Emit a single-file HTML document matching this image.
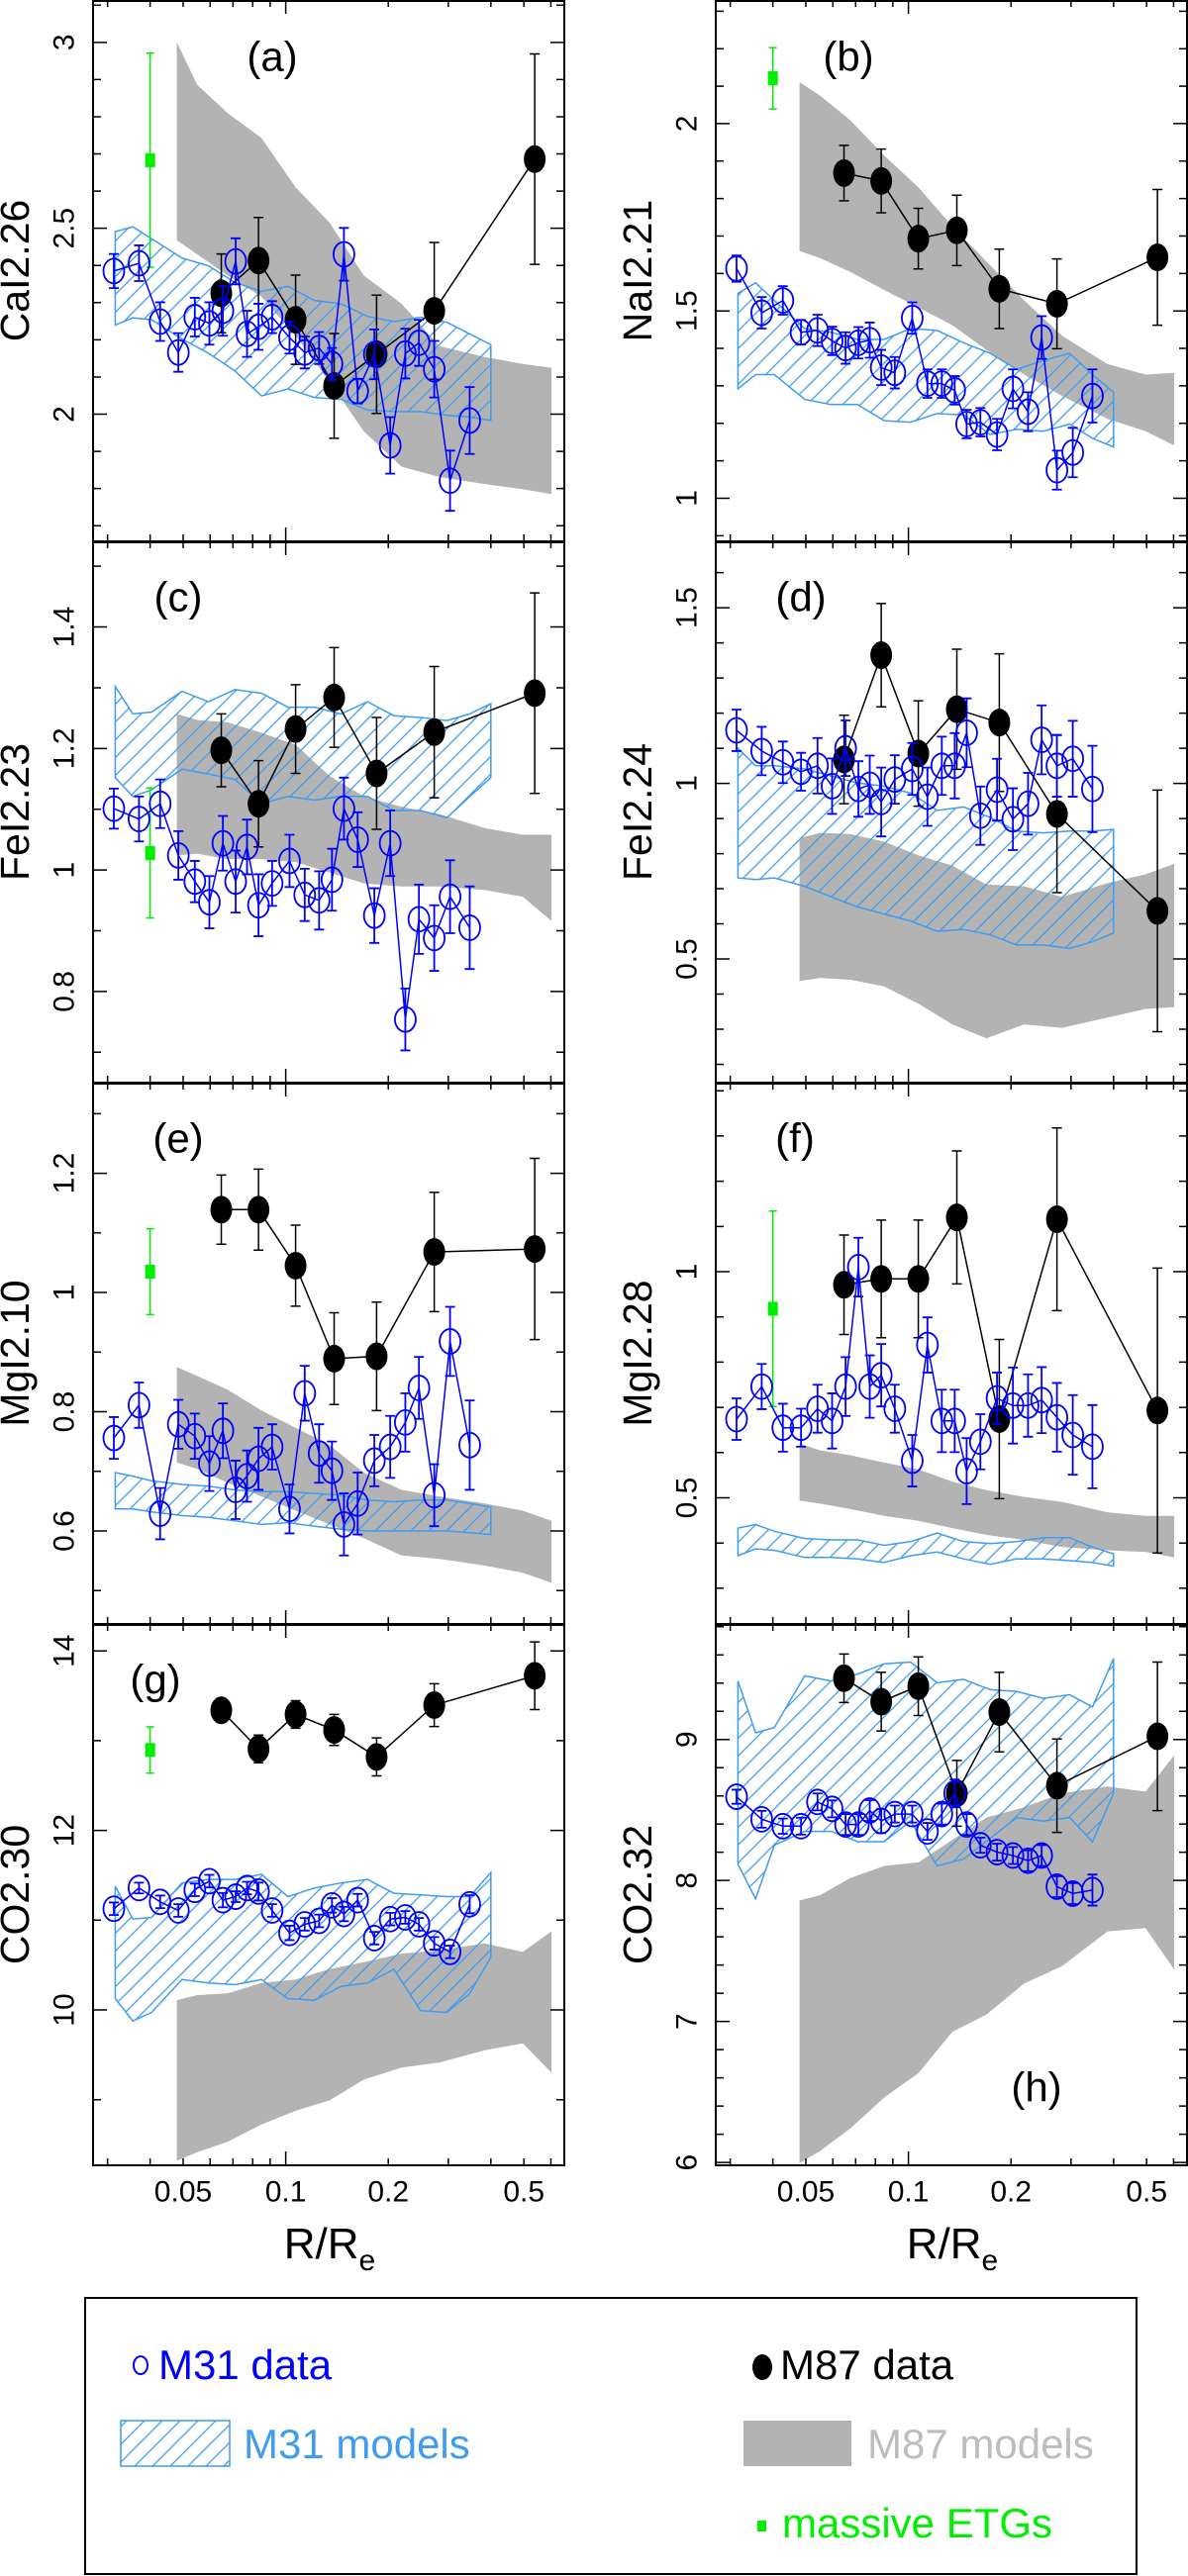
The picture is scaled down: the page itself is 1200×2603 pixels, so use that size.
<!DOCTYPE html>
<html><head><meta charset="utf-8"><title>Line-strength index profiles, M31 and M87</title>
<style>
html,body{margin:0;padding:0;background:#fff;}
svg{display:block;font-family:"Liberation Sans",sans-serif;}
</style></head>
<body>
<svg id="fig" width="1200" height="2603" viewBox="0 0 1200 2603" xmlns="http://www.w3.org/2000/svg">
<defs>
<pattern id="hatch" patternUnits="userSpaceOnUse" width="18" height="18">
<path d="M0,18 L18,0 M-4,4 L4,-4 M14,22 L22,14" stroke="#3f9cf0" stroke-width="1.3" fill="none"/>
</pattern>
</defs>
<g id="panels"></g>
<g id="legend">
<rect x="86" y="2322" width="1062" height="279" fill="none" stroke="#000" stroke-width="2"/>
<ellipse cx="142" cy="2390" rx="7" ry="9" fill="none" stroke="#0000ff" stroke-width="2"/>
<text x="160" y="2404" font-size="42" fill="#0000ff">M31 data</text>
<rect x="122" y="2446" width="110" height="46" fill="url(#hatch)" stroke="#3f9cf0" stroke-width="1.5"/>
<text x="246" y="2484" font-size="42" fill="#3f9cf0">M31 models</text>
<ellipse cx="770" cy="2392" rx="10" ry="13" fill="#000"/>
<text x="788" y="2404" font-size="42" fill="#000">M87 data</text>
<rect x="751" y="2446" width="109" height="46" fill="#b3b3b3"/>
<text x="876" y="2484" font-size="42" fill="#bdbdbd">M87 models</text>
<rect x="765" y="2547" width="9" height="11" fill="#00ee00"/>
<text x="790" y="2564" font-size="42" fill="#00ee00">massive ETGs</text>
</g>
</svg>
<script>
// ---------- shared radii (R/Re) ----------
const R_M31 = [0.0313,0.0371,0.0428,0.0484,0.0541,0.0597,0.0654,0.0713,0.0770,0.0832,0.0912,0.1026,0.1137,0.1253,0.1367,0.1482,0.1626,0.1820,0.2026,0.2244,0.2460,0.2728,0.3036,0.3467];
const R_M87 = [0.0647,0.0832,0.1069,0.1387,0.1848,0.2728,0.538];
const R_GREEN = 0.040;
const R_GRAY = [0.0479,0.0550,0.0675,0.0849,0.1069,0.1345,0.1694,0.2188,0.2825,0.3838,0.4963,0.6026];
const R_HATCH = [0.0316,0.0356,0.0404,0.0496,0.0593,0.0710,0.0849,0.1015,0.1214,0.1452,0.1738,0.2078,0.2487,0.2974,0.3467,0.4000];
const X_TICK_LABELS = ["0.05","0.1","0.2","0.5"];
const X_TICK_VALUES = [0.05,0.1,0.2,0.5];
const X_MINOR = [0.03,0.04,0.05,0.06,0.07,0.08,0.09,0.2,0.3,0.4,0.5,0.6];

// ---------- (a) CaI2.26 ----------
const aM31 = [2.385,2.406,2.249,2.166,2.261,2.244,2.278,2.411,2.216,2.235,2.261,2.206,2.166,2.178,2.135,2.430,2.062,2.161,1.916,2.163,2.192,2.121,1.821,1.983];
const aM31err = [0.046,0.048,0.052,0.052,0.052,0.057,0.067,0.062,0.062,0.062,0.043,0.043,0.043,0.043,0.043,0.071,0.033,0.067,0.076,0.067,0.062,0.076,0.081,0.090];
const aM87 = [2.325,2.413,2.254,2.076,2.161,2.278,2.686];
const aM87err = [0.106,0.116,0.120,0.141,0.159,0.184,0.283];
const aGreen = [2.683,0.288];
const aGrayHi = [3.0,2.886,2.810,2.743,2.610,2.515,2.373,2.297,2.183,2.154,2.135,2.125];
const aGrayLo = [2.468,2.430,2.373,2.316,2.211,2.087,1.954,1.859,1.831,1.812,1.798,1.785];
const aHatchHi = [2.491,2.504,2.472,2.420,2.399,2.354,2.330,2.344,2.306,2.297,2.263,2.249,2.261,2.247,2.216,2.187];
const aHatchLo = [2.240,2.259,2.254,2.202,2.164,2.116,2.049,2.068,2.045,2.040,2.011,2.007,2.007,1.997,1.992,1.983];

// ---------- (b) NaI2.21 ----------
const bM31 = [1.613,1.495,1.528,1.443,1.448,1.420,1.401,1.415,1.422,1.349,1.335,1.481,1.306,1.306,1.288,1.198,1.203,1.170,1.292,1.231,1.429,1.075,1.122,1.273];
const bM31err = [0.035,0.042,0.038,0.033,0.042,0.038,0.042,0.042,0.047,0.047,0.042,0.042,0.038,0.038,0.038,0.038,0.038,0.042,0.052,0.052,0.057,0.052,0.066,0.071];
const bM87 = [1.868,1.847,1.693,1.715,1.559,1.519,1.643];
const bM87err = [0.074,0.085,0.081,0.094,0.106,0.120,0.181];
const bGreen = [2.121,0.082];
const bGrayHi = [2.111,2.075,2.009,1.915,1.830,1.726,1.632,1.528,1.434,1.358,1.330,1.335];
const bGrayLo = [1.660,1.641,1.604,1.556,1.509,1.462,1.396,1.330,1.273,1.212,1.179,1.141];
const bHatchHi = [1.547,1.575,1.528,1.453,1.443,1.424,1.424,1.453,1.448,1.415,1.387,1.344,1.368,1.387,1.330,1.283];
const bHatchLo = [1.292,1.330,1.330,1.264,1.250,1.250,1.207,1.203,1.226,1.222,1.170,1.184,1.179,1.198,1.160,1.137];

// ---------- (c) FeI2.23 ----------
const cM31 = [1.101,1.084,1.109,1.024,0.981,0.947,1.044,0.981,1.038,0.942,0.978,1.015,0.959,0.950,0.984,1.101,1.050,0.925,1.044,0.754,0.919,0.888,0.956,0.905];
const cM31err = [0.033,0.037,0.040,0.040,0.034,0.043,0.045,0.051,0.045,0.051,0.037,0.043,0.043,0.048,0.051,0.051,0.045,0.045,0.054,0.051,0.057,0.054,0.060,0.068];
const cM87 = [1.197,1.109,1.232,1.284,1.159,1.227,1.291];
const cM87err = [0.060,0.071,0.073,0.082,0.092,0.108,0.165];
const cGreen = [1.028,0.107];
const cGrayHi = [1.257,1.247,1.243,1.226,1.206,1.155,1.121,1.104,1.092,1.069,1.058,1.058];
const cGrayLo = [1.024,1.027,1.018,1.018,1.013,0.996,0.978,0.973,0.973,0.967,0.956,0.916];
const cHatchHi = [1.302,1.257,1.260,1.294,1.277,1.297,1.291,1.268,1.268,1.257,1.277,1.254,1.251,1.246,1.257,1.274];
const cHatchLo = [1.152,1.121,1.132,1.166,1.158,1.149,1.109,1.121,1.115,1.121,1.121,1.098,1.098,1.086,1.121,1.152];

// ---------- (d) FeI2.24 ----------
const dM31 = [1.151,1.092,1.060,1.033,1.050,0.992,1.100,0.984,0.996,0.947,1.011,1.041,0.962,1.050,1.050,1.144,0.908,0.982,0.898,0.942,1.124,1.050,1.070,0.984];
const dM31err = [0.059,0.069,0.059,0.054,0.079,0.079,0.079,0.079,0.083,0.098,0.069,0.074,0.083,0.083,0.093,0.098,0.083,0.088,0.088,0.088,0.098,0.088,0.108,0.123];
const dM87 = [1.068,1.365,1.085,1.211,1.173,0.913,0.637];
const dM87err = [0.126,0.147,0.150,0.171,0.196,0.224,0.344];
const dGreen = null;
const dGrayHi = [0.844,0.859,0.856,0.834,0.795,0.766,0.712,0.707,0.677,0.716,0.741,0.771];
const dGrayLo = [0.437,0.446,0.441,0.422,0.373,0.314,0.274,0.314,0.304,0.333,0.358,0.363];
const dHatchHi = [1.100,1.050,1.050,1.041,1.021,1.001,0.992,0.972,0.923,0.933,0.903,0.864,0.859,0.864,0.864,0.869];
const dHatchLo = [0.731,0.726,0.731,0.707,0.677,0.648,0.628,0.608,0.579,0.584,0.569,0.540,0.540,0.530,0.549,0.574];

// ---------- (e) MgI2.10 ----------
const eM31 = [0.756,0.811,0.629,0.779,0.759,0.713,0.768,0.669,0.692,0.721,0.741,0.637,0.831,0.730,0.701,0.611,0.646,0.718,0.741,0.782,0.840,0.660,0.918,0.744];
const eM31err = [0.035,0.038,0.043,0.041,0.038,0.046,0.046,0.049,0.043,0.052,0.038,0.041,0.046,0.049,0.049,0.052,0.052,0.043,0.052,0.049,0.052,0.052,0.058,0.075];
const eM87 = [1.139,1.139,1.045,0.889,0.893,1.068,1.073];
const eM87err = [0.058,0.068,0.068,0.077,0.091,0.100,0.152];
const eGreen = [1.035,0.072];
const eGrayHi = [0.875,0.860,0.837,0.802,0.773,0.744,0.698,0.669,0.658,0.646,0.634,0.617];
const eGrayLo = [0.715,0.704,0.681,0.658,0.634,0.611,0.588,0.559,0.553,0.542,0.530,0.513];
const eHatchHi = [0.698,0.692,0.684,0.678,0.675,0.669,0.666,0.666,0.663,0.660,0.652,0.649,0.652,0.652,0.646,0.640];
const eHatchLo = [0.637,0.637,0.632,0.626,0.623,0.617,0.611,0.614,0.608,0.603,0.600,0.600,0.600,0.600,0.597,0.594];

// ---------- (f) MgI2.28 ----------
const fM31 = [0.674,0.746,0.655,0.655,0.697,0.670,0.746,1.010,0.746,0.771,0.697,0.582,0.838,0.670,0.670,0.559,0.624,0.720,0.704,0.704,0.716,0.678,0.639,0.613];
const fM31err = [0.046,0.050,0.053,0.042,0.053,0.061,0.065,0.065,0.069,0.069,0.053,0.057,0.061,0.069,0.069,0.073,0.061,0.057,0.084,0.069,0.073,0.076,0.088,0.092];
const fM87 = [0.971,0.984,0.984,1.120,0.674,1.116,0.693];
const fM87err = [0.110,0.130,0.130,0.147,0.176,0.202,0.315];
const fGreen = [0.918,0.216];
const fGrayHi = [0.620,0.605,0.594,0.578,0.563,0.536,0.517,0.502,0.491,0.468,0.460,0.460];
const fGrayLo = [0.494,0.487,0.475,0.460,0.449,0.433,0.418,0.407,0.391,0.384,0.380,0.368];
const fHatchHi = [0.433,0.441,0.426,0.410,0.407,0.407,0.395,0.403,0.422,0.403,0.399,0.403,0.412,0.412,0.391,0.376];
const fHatchLo = [0.372,0.387,0.384,0.368,0.368,0.365,0.357,0.372,0.380,0.365,0.353,0.365,0.365,0.361,0.357,0.349];

// ---------- (g) CO2.30 ----------
const gM31 = [11.127,11.358,11.204,11.108,11.338,11.435,11.223,11.262,11.358,11.319,11.108,10.858,10.954,10.992,11.165,11.069,11.223,10.800,11.012,11.031,10.954,10.742,10.646,11.177];
const gM31err = [0.07,0.06,0.07,0.07,0.07,0.07,0.08,0.06,0.07,0.10,0.07,0.08,0.07,0.07,0.08,0.08,0.07,0.07,0.07,0.07,0.07,0.07,0.07,0.10];
const gM87 = [13.338,12.908,13.292,13.119,12.819,13.396,13.723];
const gM87err = [0.135,0.154,0.154,0.173,0.212,0.238,0.377];
const gGreen = [12.896,0.258];
const gGrayHi = [10.108,10.165,10.185,10.300,10.338,10.454,10.531,10.627,10.665,10.742,10.646,10.877];
const gGrayLo = [8.319,8.415,8.531,8.723,8.877,8.992,9.223,9.358,9.415,9.550,9.627,9.300];
const gHatchHi = [11.377,11.012,11.031,11.415,11.454,11.454,11.512,11.262,11.358,11.415,11.454,11.300,11.281,11.262,11.262,11.531];
const gHatchLo = [10.127,9.877,9.973,10.338,10.300,10.281,10.338,10.127,10.108,10.262,10.300,10.454,9.992,9.973,10.185,10.588];

// ---------- (h) CO2.32 ----------
const hM31 = [8.594,8.434,8.385,8.385,8.557,8.508,8.397,8.397,8.496,8.422,8.471,8.471,8.348,8.471,8.618,8.397,8.250,8.201,8.177,8.140,8.177,7.956,7.907,7.932];
const hM31err = [0.05,0.06,0.054,0.06,0.06,0.06,0.074,0.074,0.074,0.086,0.06,0.06,0.06,0.074,0.098,0.074,0.054,0.06,0.06,0.074,0.074,0.074,0.074,0.11];
const hM87 = [9.434,9.268,9.378,8.618,9.194,8.672,9.022];
const hM87err = [0.172,0.208,0.208,0.233,0.282,0.331,0.527];
const hGreen = null;
const hGrayHi = [7.858,7.895,8.017,8.103,8.128,8.287,8.446,8.520,8.618,8.667,8.630,8.888];
const hGrayLo = [5.995,6.081,6.241,6.461,6.633,6.927,7.049,7.270,7.393,7.638,7.662,7.368];
const hHatchHi = [9.415,9.047,9.084,9.451,9.415,9.464,9.537,9.549,9.402,9.427,9.353,9.341,9.292,9.317,9.231,9.574];
const hHatchLo = [8.116,7.870,8.250,8.348,8.348,8.275,8.275,8.422,8.103,8.152,8.299,8.446,8.422,8.446,8.275,8.618];

// ---------- layout ----------
const NS = "http://www.w3.org/2000/svg";
const COL_LEFT = [94, 723];
const PW = 476, PH = 547;
const ROW_TOP = [0, 547, 1094, 1641];
const XMIN = Math.log10(0.0272), XMAX = Math.log10(0.657);

const panels = [
 {id:"a",col:0,row:0,ymin:1.658,ymax:3.114,major:0.5,minor:0.1,title:"CaI2.26",lx:275,ly:57,m31:aM31,m31e:aM31err,m87:aM87,m87e:aM87err,green:aGreen,gh:aGrayHi,gl:aGrayLo,hh:aHatchHi,hl:aHatchLo},
 {id:"b",col:1,row:0,ymin:0.885,ymax:2.330,major:0.5,minor:0.1,title:"NaI2.21",lx:857,ly:57,m31:bM31,m31e:bM31err,m87:bM87,m87e:bM87err,green:bGreen,gh:bGrayHi,gl:bGrayLo,hh:bHatchHi,hl:bHatchLo},
 {id:"c",col:0,row:1,ymin:0.650,ymax:1.541,major:0.2,minor:0.1,title:"FeI2.23",lx:180,ly:56,m31:cM31,m31e:cM31err,m87:cM87,m87e:cM87err,green:cGreen,gh:cGrayHi,gl:cGrayLo,hh:cHatchHi,hl:cHatchLo},
 {id:"d",col:1,row:1,ymin:0.148,ymax:1.689,major:0.5,minor:0.1,title:"FeI2.24",lx:809,ly:56,m31:dM31,m31e:dM31err,m87:dM87,m87e:dM87err,green:dGreen,gh:dGrayHi,gl:dGrayLo,hh:dHatchHi,hl:dHatchLo},
 {id:"e",col:0,row:2,ymin:0.444,ymax:1.352,major:0.2,minor:0.1,title:"MgI2.10",lx:180,ly:56,m31:eM31,m31e:eM31err,m87:eM87,m87e:eM87err,green:eGreen,gh:eGrayHi,gl:eGrayLo,hh:eHatchHi,hl:eHatchLo},
 {id:"f",col:1,row:2,ymin:0.221,ymax:1.418,major:0.5,minor:0.1,title:"MgI2.28",lx:803,ly:56,m31:fM31,m31e:fM31err,m87:fM87,m87e:fM87err,green:fGreen,gh:fGrayHi,gl:fGrayLo,hh:fHatchHi,hl:fHatchLo},
 {id:"g",col:0,row:3,ymin:8.269,ymax:14.3,major:2,minor:1,title:"CO2.30",lx:157,ly:56,m31:gM31,m31e:gM31err,m87:gM87,m87e:gM87err,green:gGreen,gh:gGrayHi,gl:gGrayLo,hh:gHatchHi,hl:gHatchLo},
 {id:"h",col:1,row:3,ymin:5.98,ymax:9.819,major:1,minor:0.2,title:"CO2.32",lx:1047,ly:468,m31:hM31,m31e:hM31err,m87:hM87,m87e:hM87err,green:hGreen,gh:hGrayHi,gl:hGrayLo,hh:hHatchHi,hl:hHatchLo}
];

function mk(tag, attrs, parent){
  const el = document.createElementNS(NS, tag);
  for (const k in attrs) el.setAttribute(k, attrs[k]);
  if (parent) parent.appendChild(el);
  return el;
}
function fmt(v){ return String(Math.round(v*1000)/1000); }

const root = document.getElementById("panels");

panels.forEach(p => {
  const L = COL_LEFT[p.col], T = ROW_TOP[p.row];
  const xs = r => L + (Math.log10(r) - XMIN) / (XMAX - XMIN) * PW;
  const ys = v => T + (p.ymax - v) / (p.ymax - p.ymin) * PH;

  const g = mk("g", {}, root);
  
  

  const clipId = "clip-" + p.id;
  const cp = mk("clipPath", {id: clipId}, g);
  mk("rect", {x: L, y: T, width: PW, height: PH}, cp);
  const plot = mk("g", {"clip-path": "url(#" + clipId + ")"}, g);
  
  

  // gray M87 model band
  let d = "";
  R_GRAY.forEach((r, i) => { d += (i ? "L" : "M") + xs(r).toFixed(1) + "," + ys(p.gh[i]).toFixed(1); });
  for (let i = R_GRAY.length - 1; i >= 0; i--) d += "L" + xs(R_GRAY[i]).toFixed(1) + "," + ys(p.gl[i]).toFixed(1);
  const gray = mk("path", {d: d + "Z", fill: "#b3b3b3", stroke: "none"}, plot);
  
  

  // hatched M31 model band
  d = "";
  R_HATCH.forEach((r, i) => { d += (i ? "L" : "M") + xs(r).toFixed(1) + "," + ys(p.hh[i]).toFixed(1); });
  for (let i = R_HATCH.length - 1; i >= 0; i--) d += "L" + xs(R_HATCH[i]).toFixed(1) + "," + ys(p.hl[i]).toFixed(1);
  const hatch = mk("path", {d: d + "Z", fill: "url(#hatch)", stroke: "#3f9cf0", "stroke-width": 1.5}, plot);
  
  

  // green massive ETGs
  if (p.green) {
    const gx = xs(R_GREEN), gy = ys(p.green[0]);
    const y1 = ys(p.green[0] + p.green[1]), y2 = ys(p.green[0] - p.green[1]);
    const ge = mk("path", {d: `M${gx},${y1}V${y2}M${gx-4},${y1}H${gx+4}M${gx-4},${y2}H${gx+4}`, stroke: "#00ee00", "stroke-width": 1.5, fill: "none"}, plot);
    
    
    const gm = mk("rect", {x: gx - 5, y: gy - 7, width: 10, height: 14, fill: "#00ee00"}, plot);
    
    
  }

  // M87 data
  let ld = "";
  R_M87.forEach((r, i) => { ld += (i ? "L" : "M") + xs(r).toFixed(1) + "," + ys(p.m87[i]).toFixed(1); });
  const m87line = mk("path", {d: ld, stroke: "#000", "stroke-width": 1.5, fill: "none"}, plot);
  
  
  R_M87.forEach((r, i) => {
    const x = xs(r), y1 = ys(p.m87[i] + p.m87e[i]), y2 = ys(p.m87[i] - p.m87e[i]);
    const eb = mk("path", {d: `M${x},${y1}V${y2}M${x-5},${y1}H${x+5}M${x-5},${y2}H${x+5}`, stroke: "#000", "stroke-width": 1.5, fill: "none"}, plot);
    
    
    const pt = mk("ellipse", {cx: x, cy: ys(p.m87[i]), rx: 11, ry: 14, fill: "#000"}, plot);
    
    
  });

  // M31 data
  ld = "";
  R_M31.forEach((r, i) => { ld += (i ? "L" : "M") + xs(r).toFixed(1) + "," + ys(p.m31[i]).toFixed(1); });
  const m31line = mk("path", {d: ld, stroke: "#0000ff", "stroke-width": 1.5, fill: "none"}, plot);
  
  
  R_M31.forEach((r, i) => {
    const x = xs(r), y1 = ys(p.m31[i] + p.m31e[i]), y2 = ys(p.m31[i] - p.m31e[i]);
    const eb = mk("path", {d: `M${x},${y1}V${y2}M${x-5},${y1}H${x+5}M${x-5},${y2}H${x+5}`, stroke: "#0000ff", "stroke-width": 1.8, fill: "none"}, plot);
    
    
    const pt = mk("ellipse", {cx: x, cy: ys(p.m31[i]), rx: 10.5, ry: 12.5, fill: "none", stroke: "#0000ff", "stroke-width": 1.8}, plot);
    
    
  });

  // frame
  const frame = mk("rect", {x: L, y: T + 1, width: PW, height: PH - 1, fill: "none", stroke: "#000", "stroke-width": 2}, g);
  
  

  // x ticks (top and bottom)
  let td = "";
  X_MINOR.concat([0.1]).forEach(r => {
    const x = xs(r), len = (r === 0.1) ? 14 : 7;
    td += `M${x},${T+PH}V${T+PH-len}M${x},${T}V${T+len}`;
  });
  // y ticks (left and right)
  const start = Math.ceil(p.ymin / p.minor - 1e-6);
  const end = Math.floor(p.ymax / p.minor + 1e-6);
  for (let k = start; k <= end; k++) {
    const v = k * p.minor;
    const isMaj = Math.abs(v / p.major - Math.round(v / p.major)) < 1e-6;
    const y = ys(v), len = isMaj ? 14 : 8;
    td += `M${L},${y}H${L+len}M${L+PW},${y}H${L+PW-len}`;
  }
  const ticks = mk("path", {d: td, stroke: "#000", "stroke-width": 1.5, fill: "none"}, g);
  
  

  // y tick labels (rotated)
  const mstart = Math.ceil(p.ymin / p.major - 1e-6), mend = Math.floor(p.ymax / p.major + 1e-6);
  for (let k = mstart; k <= mend; k++) {
    const v = k * p.major, y = ys(v), x = L - 29;
    const t = mk("text", {x: x, y: y, "font-size": 30, "text-anchor": "middle", "dominant-baseline": "central", transform: `rotate(-90 ${x} ${y})`, fill: "#000"}, g);
    
    
    t.textContent = fmt(v);
  }

  // y axis title
  const tx = L - 79, ty = T + PH / 2;
  const yt = mk("text", {x: tx, y: ty, "font-size": 41, "text-anchor": "middle", "dominant-baseline": "central", transform: `rotate(-90 ${tx} ${ty})`, fill: "#000"}, g);
  
  
  yt.textContent = p.title;

  // panel label
  const pl = mk("text", {x: p.lx, y: T + p.ly, "font-size": 42, "text-anchor": "middle", "dominant-baseline": "central", fill: "#000"}, g);
  
  
  pl.textContent = "(" + p.id + ")";

  // x tick labels + title on bottom row
  if (p.row === 3) {
    X_TICK_VALUES.forEach((r, i) => {
      const t = mk("text", {x: xs(r), y: T + PH + 27, "font-size": 30, "text-anchor": "middle", "dominant-baseline": "central", fill: "#000"}, g);
      
      
      t.textContent = X_TICK_LABELS[i];
    });
    const xt = mk("text", {x: L + 239, y: T + PH + 94, "font-size": 44, "text-anchor": "middle", fill: "#000"}, g);
    
    
    const s1 = mk("tspan", {}, xt);
    s1.textContent = "R/R";
    const s2 = mk("tspan", {dy: 12, "font-size": 30}, xt);
    s2.textContent = "e";
  }
});
</script>
</body></html>
